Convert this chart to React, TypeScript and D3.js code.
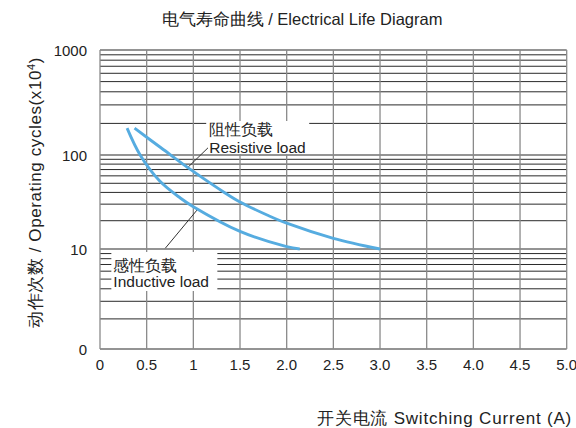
import React from "react";
import * as d3 from "d3";

// ---- data ----
const xTicks = [0, 0.5, 1, 1.5, 2, 2.5, 3, 3.5, 4, 4.5, 5];
const xTickLabels = ["0", "0.5", "1", "1.5", "2.0", "2.5", "3.0", "3.5", "4.0", "4.5", "5.0"];
const yTicks = [1, 10, 100, 1000];
const yTickLabels = ["0", "10", "100", "1000"];
const decades = [1, 10, 100];
const minorMultipliers = [2, 3, 4, 5, 6, 7, 8, 9];

const resistiveCurrent = [0.37, 0.66, 0.98, 1.34, 1.5, 1.79, 2.0, 2.5, 3.0];
const resistiveCycles = [180, 116, 69, 39.5, 31.6, 23, 18.8, 13, 10];
const inductiveCurrent = [0.29, 0.43, 0.64, 0.86, 1.0, 1.5, 2.0, 2.14];
const inductiveCycles = [180, 100, 52.8, 34.9, 28.2, 15.4, 10.6, 10];

const titleText = "电气寿命曲线 / Electrical Life Diagram";
const xTitle = "开关电流 Switching Current (A)";
const yTitleMain = "动作次数 / Operating cycles(x10";
const yTitleSup = "4";
const resLabel = ["阻性负载", "Resistive load"];
const indLabel = ["感性负载", "Inductive load"];

const FONT = "'Liberation Sans', Arial, Helvetica, sans-serif";
const BLUE = "#56ace0";

export default function App() {
  const left = 100, right = 566.7, top = 50, bottom = 349;
  const x = d3.scaleLinear().domain([0, 5]).range([left, right]);
  const yLin = d3.scaleLinear().domain([0, 1, 2, 3]).range([bottom, 249, 155, top]);
  const y = (v: number) => yLin(Math.log10(v));

  const minorVals: number[] = [];
  decades.forEach((d) => minorMultipliers.forEach((m) => minorVals.push(d * m)));

  const line = d3
    .line<[number, number]>()
    .x((d) => x(d[0]))
    .y((d) => y(d[1]))
    .curve(d3.curveCatmullRom.alpha(0.5));

  const resPath = line(resistiveCurrent.map((c, i) => [c, resistiveCycles[i]] as [number, number]));
  const indPath = line(inductiveCurrent.map((c, i) => [c, inductiveCycles[i]] as [number, number]));

  const resTextX = x(1.17);
  const indTextX = x(0.143);

  return (
    <svg
      width={576}
      height={428}
      style={{ position: "absolute", left: 0, top: 0, background: "#fff" }}
      fontFamily={FONT}
    >
      <rect x={0} y={0} width={576} height={428} fill="#fff" />
      <text x={302} y={25} textAnchor="middle" fontSize={16.5} fill="#222">
        {titleText}
      </text>

      {/* horizontal grid */}
      {minorVals.map((v) => (
        <line key={"h" + v} x1={left} x2={right} y1={y(v)} y2={y(v)} stroke="#2a2a2a" strokeWidth={1} />
      ))}
      {yTicks.map((v) => (
        <line key={"hm" + v} x1={left} x2={right} y1={y(v)} y2={y(v)} stroke="#2a2a2a" strokeWidth={1.1} />
      ))}
      {/* vertical grid */}
      {xTicks.map((v) => (
        <line key={"v" + v} x1={x(v)} x2={x(v)} y1={top} y2={bottom} stroke="#8a8a8a" strokeWidth={1.3} />
      ))}

      {/* label backgrounds */}
      <rect x={resTextX - 3} y={121} width={103} height={33} fill="#fff" />
      <rect x={indTextX - 2} y={252} width={106} height={39} fill="#fff" />

      {/* leader lines */}
      <line x1={x(1.157)} y1={y(117)} x2={x(0.93)} y2={y(72)} stroke="#333" strokeWidth={1} />
      <line x1={x(0.70)} y1={y(10.2)} x2={x(1.04)} y2={y(26)} stroke="#333" strokeWidth={1} />

      {/* curves */}
      <path d={resPath || ""} fill="none" stroke={BLUE} strokeWidth={2.9} />
      <path d={indPath || ""} fill="none" stroke={BLUE} strokeWidth={2.9} />

      {/* labels */}
      <text x={resTextX} y={135} fontSize={15.5} fill="#222">{resLabel[0]}</text>
      <text x={resTextX} y={153} fontSize={15.5} fill="#222">{resLabel[1]}</text>
      <text x={indTextX} y={270.5} fontSize={15.5} fill="#222">{indLabel[0]}</text>
      <text x={indTextX} y={286.5} fontSize={15.5} fill="#222">{indLabel[1]}</text>

      {/* y tick labels */}
      {yTicks.map((v, i) => (
        <text key={"yt" + v} x={87} y={y(v) + 5.5} textAnchor="end" fontSize={15} fill="#222">
          {yTickLabels[i]}
        </text>
      ))}
      {/* x tick labels */}
      {xTicks.map((v, i) => (
        <text key={"xt" + v} x={x(v)} y={370} textAnchor="middle" fontSize={15} fill="#222">
          {xTickLabels[i]}
        </text>
      ))}

      {/* axis titles */}
      <text x={572} y={424} textAnchor="end" fontSize={17} letterSpacing={0.8} fill="#222">
        {xTitle}
      </text>
      <text
        transform={`translate(41,192.5) rotate(-90)`}
        textAnchor="middle"
        fontSize={17}
        letterSpacing={0.6}
        fill="#222"
      >
        {yTitleMain}
        <tspan fontSize={11} dy={-6}>{yTitleSup}</tspan>
        <tspan dy={6}>)</tspan>
      </text>
    </svg>
  );
}
